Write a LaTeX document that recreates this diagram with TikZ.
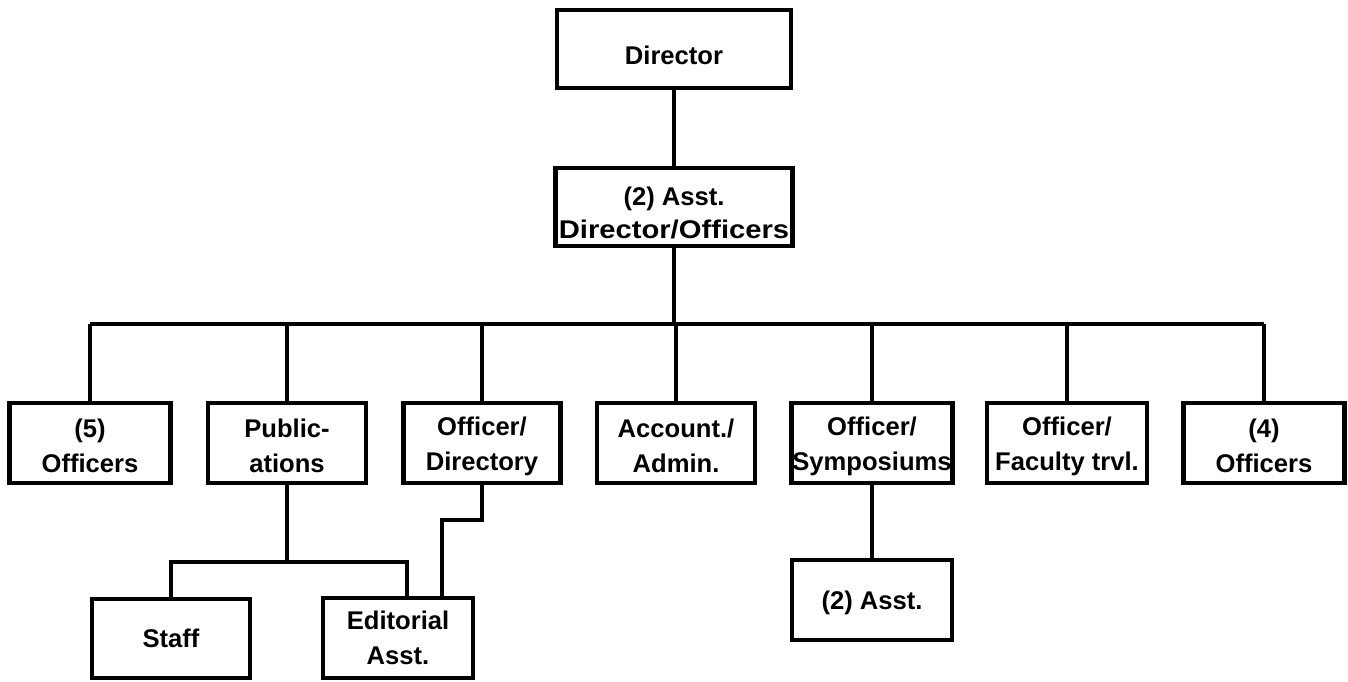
\documentclass[tikz,border=0pt]{standalone}
\usepackage{fontspec}
\usepackage{graphicx}
\setmainfont{Liberation Sans}
\newcommand{\lowerstrut}[1]{\rule{0pt}{#1}}
\begin{document}
\begin{tikzpicture}[x=0.5pt,y=-0.5pt,
  every node/.style={font=\fontsize{12.8}{17.5}\selectfont\bfseries},
  box/.style={draw, line width=2.3pt, rectangle, inner sep=0pt, align=center,
    minimum width=80.5pt, minimum height=40pt},
  link/.style={line width=2.3pt}]
\useasboundingbox (0,0) rectangle (1348,681);
% top
\node[box, minimum width=117pt, minimum height=39pt] (dir) at (674,49) {\lowerstrut{16pt}Director};
\node[box, minimum width=118.5pt, minimum height=39pt, font=\fontsize{12.8}{16.5}\selectfont\bfseries] (asst) at (674,207) {\lowerstrut{15pt}(2) Asst.\\\scalebox{1.14}[1]{Director/Officers}};
% row
\node[box] (o5)  at (90,443)   {\lowerstrut{12.5pt}(5)\\Officers};
\node[box, minimum width=79pt] (pub) at (287,443) {\lowerstrut{12.5pt}Public-\\ations};
\node[box, minimum width=78.5pt] (odir) at (482,443) {\lowerstrut{12.5pt}Officer/\\Directory};
\node[box, minimum width=79pt] (acc) at (676,443) {\lowerstrut{12.5pt}Account./\\Admin.};
\node[box] (sym) at (872,443) {\lowerstrut{12.5pt}Officer/\\Symposiums};
\node[box, minimum width=80pt] (fac) at (1067,443) {\lowerstrut{12.5pt}Officer/\\Faculty trvl.};
\node[box] (o4)  at (1264,443) {\lowerstrut{12.5pt}(4)\\Officers};
% bottom
\node[box, minimum width=79pt, minimum height=39.5pt] (staff) at (171,638.5) {Staff};
\node[box, minimum width=75pt] (edit) at (398,638) {Editorial\\Asst.};
\node[box, minimum width=80pt] (asst2) at (872,600) {\lowerstrut{12pt}(2) Asst.};
% helper coordinates
\coordinate (bus) at (0,324);
\coordinate (e1) at (407,562);
\coordinate (e2) at (442,520);
% connectors
\draw[link] (dir.south) -- (asst.north);
\draw[link] (asst.south) -- (asst.south |- bus);
\draw[link] (o5.north |- bus) -- (o4.north |- bus);
\foreach \n in {o5,pub,odir,acc,sym,fac,o4}
  \draw[link] (\n.north |- bus) -- (\n.north);
\draw[link] (pub.south) -- (pub.south |- e1);
\draw[link] (staff.north) -- (staff.north |- e1) -- (e1) -- (e1 |- edit.north);
\draw[link] (odir.south) |- (e2) -- (e2 |- edit.north);
\draw[link] (sym.south) -- (asst2.north);
\end{tikzpicture}
\end{document}
